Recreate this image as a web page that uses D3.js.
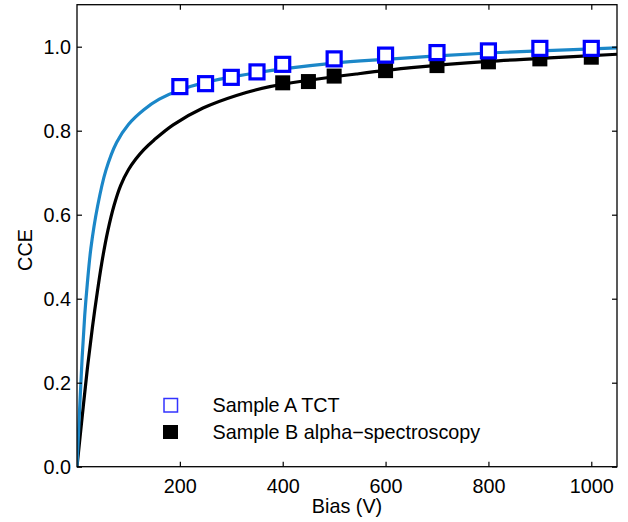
<!DOCTYPE html>
<html>
<head>
<meta charset="utf-8">
<script src="https://cdn.jsdelivr.net/npm/d3@7"></script>
<style>
  html, body { margin: 0; padding: 0; background: #fff; }
  svg text { font-family: "Liberation Sans", Arial, Helvetica, sans-serif; fill: #000; }
</style>
</head>
<body>
<svg id="chart" width="628" height="522"></svg>
<script>
// ---- data ----
const xTicks = [200, 400, 600, 800, 1000];
const yTicks = [0, 0.2, 0.4, 0.6, 0.8, 1.0];

const sampleAV   = [200, 250, 300, 350, 400, 500, 600, 700, 800, 900, 1000];
const sampleACCE = [0.905, 0.912, 0.927, 0.940, 0.958, 0.971, 0.980, 0.986, 0.990, 0.996, 0.996];

const sampleBV   = [400, 450, 500, 600, 700, 800, 900, 1000];
const sampleBCCE = [0.914, 0.917, 0.930, 0.943, 0.955, 0.964, 0.971, 0.975];

const fitAV   = [0, 5, 10, 15, 20, 27, 40, 56, 77, 100, 130, 160, 200, 250, 310, 400, 500, 600, 700, 800, 900, 1050];
const fitACCE = [0, 0.135, 0.26, 0.36, 0.435, 0.52, 0.62, 0.705, 0.772, 0.815, 0.85, 0.875, 0.897, 0.915, 0.93, 0.947, 0.961, 0.970, 0.978, 0.985, 0.990, 0.997];

const fitBV   = [0, 10, 20, 30, 38, 48, 60, 72, 85, 100, 114, 130, 150, 187, 245, 310, 375, 450, 543, 650, 800, 900, 1050];
const fitBCCE = [0, 0.118, 0.232, 0.332, 0.403, 0.484, 0.562, 0.622, 0.67, 0.707, 0.732, 0.755, 0.778, 0.814, 0.854, 0.884, 0.905, 0.92, 0.935, 0.95, 0.965, 0.972, 0.982];

const legendLabels = ["Sample A TCT", "Sample B alpha\u2212spectroscopy"];
const xLabel = "Bias (V)";
const yLabel = "CCE";

// ---- layout ----
const L = 77, R = 617, T = 4.7, B = 466.7;
const svg = d3.select("#chart");
const x = d3.scaleLinear().domain([0, 1050]).range([L, R]);
const y = d3.scaleLinear().domain([0, 1.1]).range([B, T]);
const FS = "19.8px";

svg.append("defs").append("clipPath").attr("id", "clip")
  .append("rect").attr("x", L).attr("y", T).attr("width", R - L).attr("height", B - T);

// curves
const line = d3.line().x(d => x(d[0])).y(d => y(d[1])).curve(d3.curveCatmullRom.alpha(0.5));
const plot = svg.append("g").attr("clip-path", "url(#clip)");
plot.append("path").datum(d3.zip(fitBV, fitBCCE))
  .attr("d", line).attr("fill", "none").attr("stroke", "#000").attr("stroke-width", 3.2);
plot.append("path").datum(d3.zip(fitAV, fitACCE))
  .attr("d", line).attr("fill", "none").attr("stroke", "#1b87c8").attr("stroke-width", 3.2);

// markers
const sB = 15, sA = 14;
svg.append("g").selectAll("rect").data(d3.zip(sampleBV, sampleBCCE)).join("rect")
  .attr("x", d => x(d[0]) - sB / 2).attr("y", d => y(d[1]) - sB / 2)
  .attr("width", sB).attr("height", sB).attr("fill", "#000");
svg.append("g").selectAll("rect").data(d3.zip(sampleAV, sampleACCE)).join("rect")
  .attr("x", d => x(d[0]) - sA / 2).attr("y", d => y(d[1]) - sA / 2)
  .attr("width", sA).attr("height", sA).attr("fill", "#fff")
  .attr("stroke", "#0000ff").attr("stroke-width", 3.2);

// axes
function styleAxis(g, labels) {
  g.select(".domain").remove();
  g.selectAll(".tick line").attr("stroke", "#000").attr("stroke-width", 1.2);
  if (!labels) g.selectAll(".tick text").remove();
  else g.selectAll(".tick text").style("font-size", FS).attr("fill", "#000");
}
svg.append("g").attr("transform", `translate(0,${B})`)
  .call(d3.axisBottom(x).tickValues(xTicks).tickFormat(d3.format("d")).tickSizeInner(-5).tickSizeOuter(0).tickPadding(12.5))
  .call(g => styleAxis(g, true));
svg.append("g").attr("transform", `translate(0,${T})`)
  .call(d3.axisTop(x).tickValues(xTicks).tickSizeInner(-5).tickSizeOuter(0))
  .call(g => styleAxis(g, false));
svg.append("g").attr("transform", `translate(${L},0)`)
  .call(d3.axisLeft(y).tickValues(yTicks).tickFormat(d3.format(".1f")).tickSizeInner(-5).tickSizeOuter(0).tickPadding(6))
  .call(g => styleAxis(g, true));
svg.append("g").attr("transform", `translate(${R},0)`)
  .call(d3.axisRight(y).tickValues(yTicks).tickSizeInner(-5).tickSizeOuter(0))
  .call(g => styleAxis(g, false));

// frame
svg.append("rect").attr("x", L).attr("y", T).attr("width", R - L).attr("height", B - T)
  .attr("fill", "none").attr("stroke", "#000").attr("stroke-width", 1.3);

// axis titles
svg.append("text").attr("x", (L + R) / 2).attr("y", 512.5).attr("text-anchor", "middle")
  .style("font-size", FS).text(xLabel);
svg.append("text").attr("transform", `translate(31.5,250) rotate(-90)`).attr("text-anchor", "middle")
  .style("font-size", FS).text(yLabel);

// legend
const lg = svg.append("g");
lg.append("rect").attr("x", 164).attr("y", 398.5).attr("width", 13.5).attr("height", 13.5)
  .attr("fill", "#fff").attr("stroke", "#3333ff").attr("stroke-width", 1.5);
lg.append("rect").attr("x", 163).attr("y", 425).attr("width", 15).attr("height", 14).attr("fill", "#000");
lg.append("text").attr("x", 212.5).attr("y", 411.7).style("font-size", FS).text(legendLabels[0]);
lg.append("text").attr("x", 212.5).attr("y", 438.5).style("font-size", FS).text(legendLabels[1]);
</script>
</body>
</html>
